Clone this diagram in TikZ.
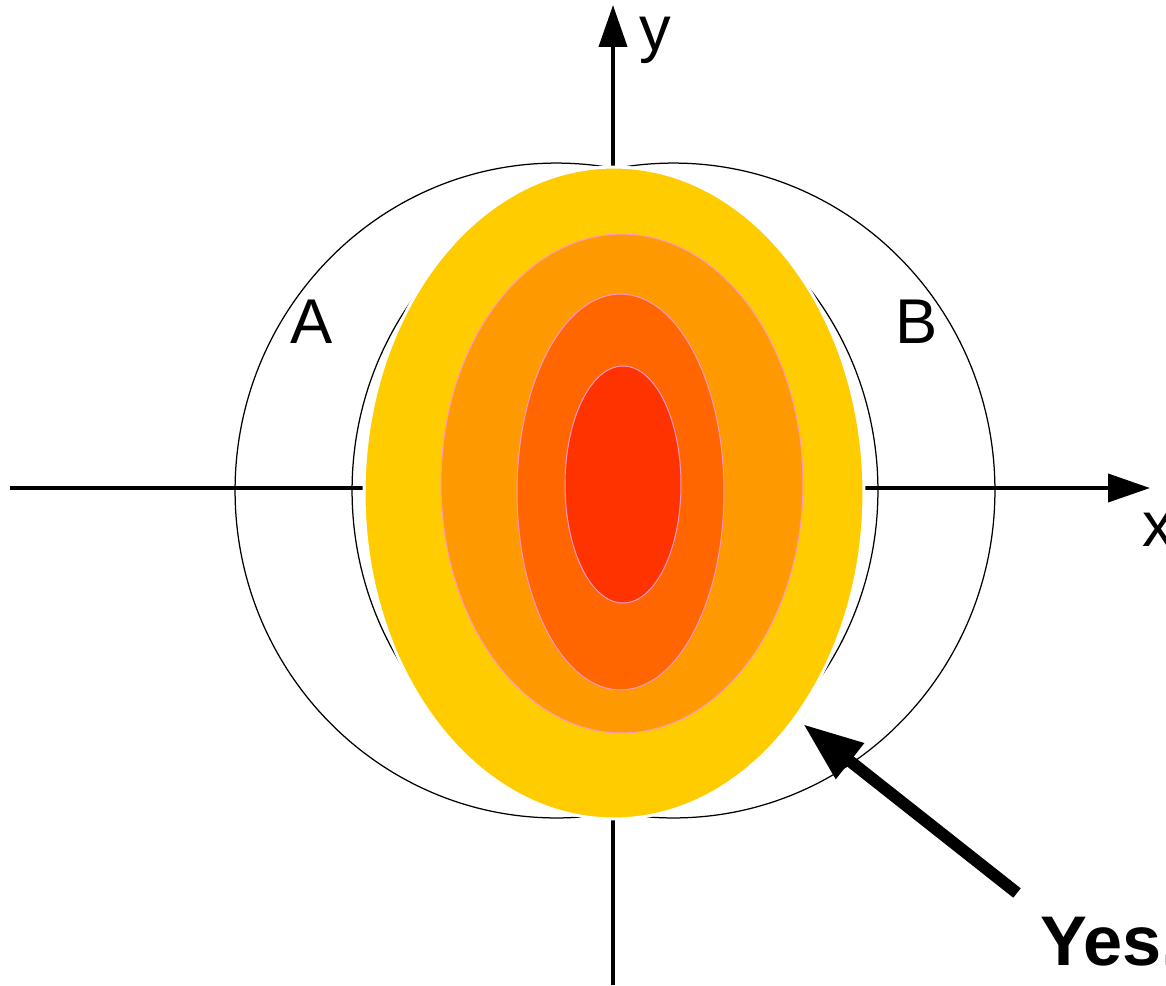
\documentclass[tikz,border=0pt]{standalone}
\usepackage{fontspec}
\setmainfont{Liberation Sans}
\usetikzlibrary{arrows.meta}
\definecolor{cYellow}{HTML}{FFCC00}
\definecolor{cOrange}{HTML}{FF9900}
\definecolor{cDark}{HTML}{FF6600}
\definecolor{cRed}{HTML}{FF3300}
\definecolor{cPink}{HTML}{FF99CC}
\tikzset{
  axis/.style={line width=0.08cm, -{Triangle[length=0.84cm,width=0.56cm]}},
  ring/.style={draw=black, line width=0.025cm},
  layer/.style={draw=cPink, line width=0.02cm},
  lbl/.style={font=\fontsize{36}{40}\selectfont, inner sep=0pt},
  bigarrow/.style={line width=0.24cm, -{Triangle[length=1.2cm,width=0.85cm]}}
}
\begin{document}
\begin{tikzpicture}[x=0.02cm,y=-0.02cm]
\useasboundingbox (0,0) rectangle (1166,985);
% axes
\coordinate (xs) at (10,488);
\coordinate (xe) at (1150,488);
\coordinate (ys) at (613,985);
\coordinate (ye) at (613,5);
\draw[axis] (xs) -- (xe);
\draw[axis] (ys) -- (ye);
% circles A and B
\draw[ring] (556.5,490.5) ellipse [x radius=6.43cm, y radius=6.55cm];
\draw[ring] (673.5,490.5) ellipse [x radius=6.43cm, y radius=6.55cm];
% layered ellipses
\filldraw[fill=cYellow, draw=white, line width=0.06cm] (614,493) ellipse [x radius=5.0cm, y radius=6.52cm];
\filldraw[layer, fill=cOrange] (622,483.5) ellipse [x radius=3.62cm, y radius=4.99cm];
\filldraw[layer, fill=cDark] (620.5,492) ellipse [x radius=2.07cm, y radius=3.96cm];
\filldraw[layer, fill=cRed] (623,484.5) ellipse [x radius=1.16cm, y radius=2.37cm];
% labels
\node[lbl] (ly) at (655,40) {y};
\node[lbl] (lx) at (1158,530) {x};
\node[lbl] (lA) at (312,322) {A};
\node[lbl] (lB) at (917,322) {B};
\node[lbl, font=\fontsize{40}{44}\selectfont\bfseries, anchor=base west] (yes) at (1040,965) {Yes.};
% pointer arrow
\coordinate (as) at (1017,893);
\coordinate (at) at (803,724);
\draw[bigarrow] (as) -- (at);
\end{tikzpicture}
\end{document}
